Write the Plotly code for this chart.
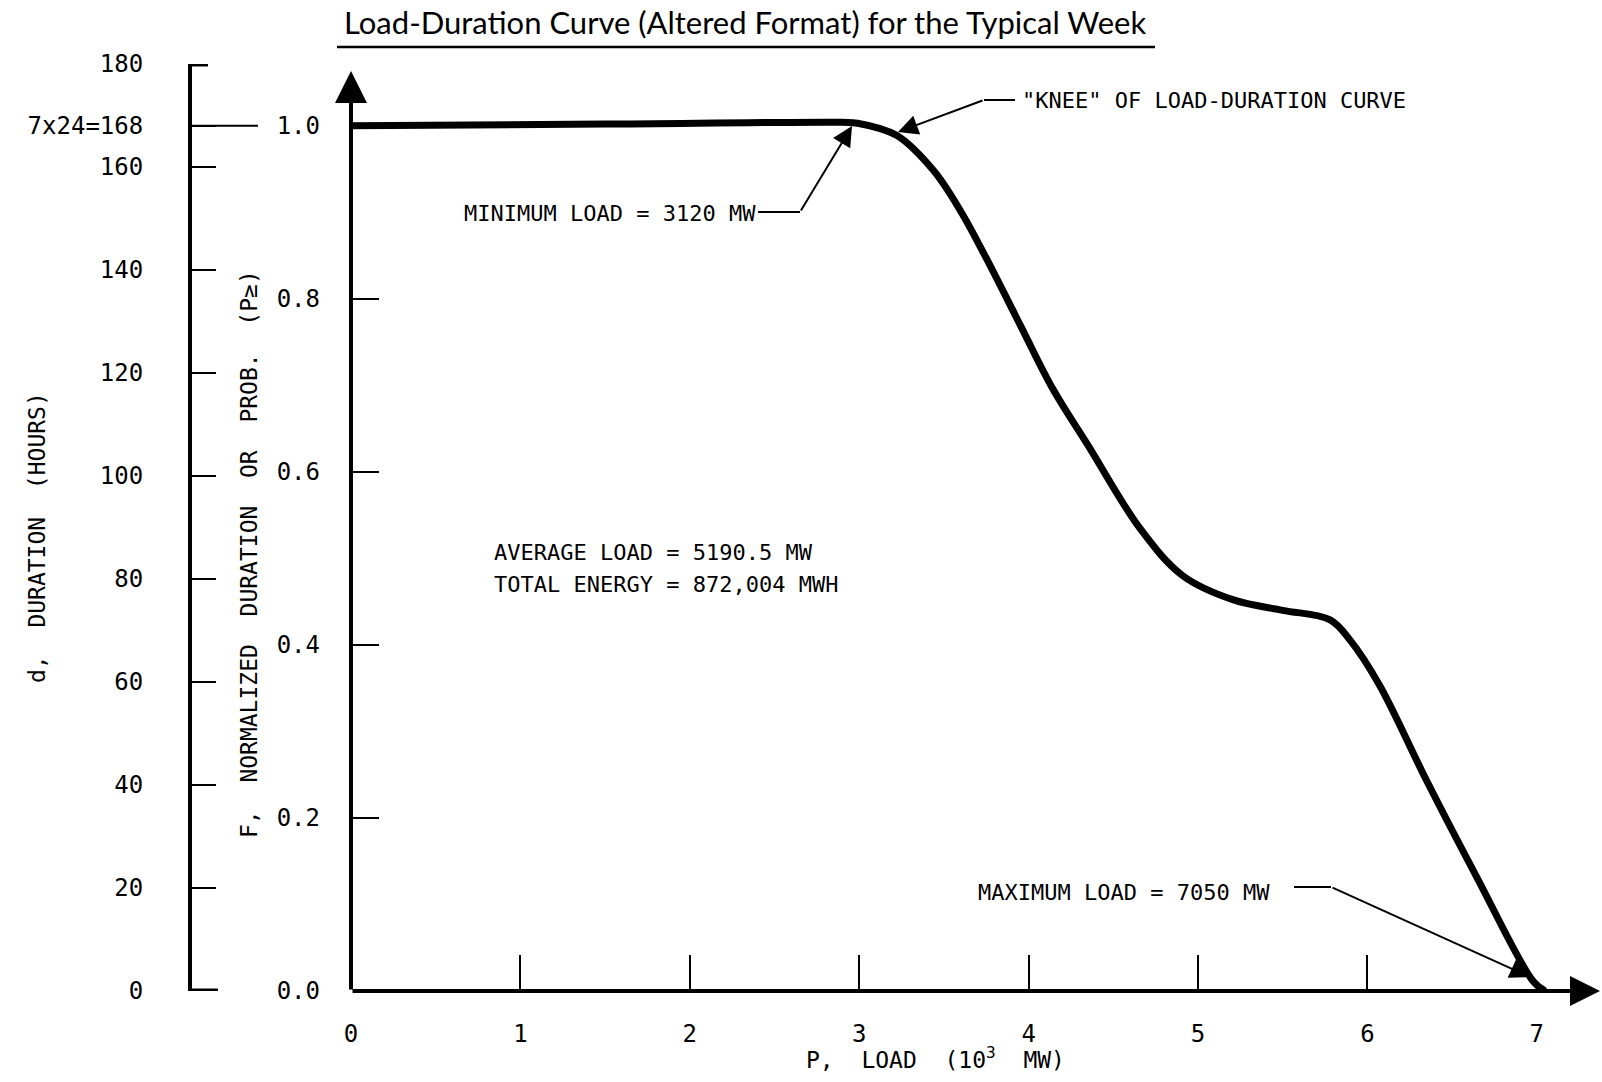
import plotly.graph_objects as go

# ---------------- data ----------------
load_P = [0.0, 1.5, 2.90, 2.99, 3.22, 3.44, 3.60, 3.75, 3.95, 4.14, 4.35, 4.66,
          4.91, 5.21, 5.50, 5.78, 5.90, 6.07, 6.35, 6.65, 6.98, 7.05]
norm_F = [1.000, 1.002, 1.004, 1.003, 0.989, 0.948, 0.901, 0.847, 0.770, 0.697, 0.631, 0.534,
          0.480, 0.452, 0.440, 0.429, 0.405, 0.354, 0.243, 0.130, 0.011, 0.000]

x_label_vals = [0, 1, 2, 3, 4, 5, 6, 7]
x_label_text = ["0", "1", "2", "3", "4", "5", "6", "7"]
x_tick_marks = [1, 2, 3, 4, 5, 6]
f_tick_vals = [0.0, 0.2, 0.4, 0.6, 0.8, 1.0]
f_tick_text = ["0.0", "0.2", "0.4", "0.6", "0.8", "1.0"]
d_tick_vals = [0, 20, 40, 60, 80, 100, 120, 140, 160, 168, 180]
d_tick_text = ["0", "20", "40", "60", "80", "100", "120", "140", "160", "7x24=168", "180"]
HOURS_WEEK = 168
D_TOP = 180

MIN_LOAD = 3.12
MAX_LOAD = 7.05

# ---------------- layout geometry ----------------
W, H = 1602, 1082
MT, MB = 64, 91
X0_PX = 351.0          # pixel of P = 0
PX_PER_P = 169.4
X_MAX = (W - X0_PX) / PX_PER_P
F_TOP = D_TOP / HOURS_WEEK
PLOT_H = H - MT - MB
PX_PER_F = PLOT_H / F_TOP


def px2x(px):
    return (px - X0_PX) / PX_PER_P


def py2f(py):
    return (H - MB - py) / PX_PER_F


def ppx(px):
    return px / W


def ppy(py):
    return (H - MB - py) / PLOT_H


MONO = "DejaVu Sans Mono"
BLACK = "black"

fig = go.Figure()
fig.add_trace(go.Scatter(
    x=load_P, y=norm_F, mode="lines",
    line=dict(color=BLACK, width=7, shape="spline", smoothing=1.0),
    hoverinfo="skip", showlegend=False))
# invisible helper trace so the label axes render
fig.add_trace(go.Scatter(x=[0], y=[0], xaxis="x2", yaxis="y2", mode="markers",
                         marker=dict(opacity=0), hoverinfo="skip", showlegend=False))

annotations = []
shapes = []


def arrow(tip, tail, width=2, size=2.0, head=2):
    annotations.append(dict(
        x=tip[0], y=tip[1], ax=tail[0], ay=tail[1],
        xref="x", yref="y", axref="x", ayref="y",
        text="", showarrow=True, arrowhead=head, arrowsize=size,
        arrowwidth=width, arrowcolor=BLACK, standoff=0, startstandoff=0))


def seg(p0, p1, width=2):
    shapes.append(dict(type="line", xref="x", yref="y",
                       x0=p0[0], y0=p0[1], x1=p1[0], y1=p1[1],
                       line=dict(color=BLACK, width=width)))


# main axes as arrows
arrow((0, py2f(71)), (0, 0), width=4, size=1.6)
arrow((px2x(1600), 0), (0, 0), width=4, size=1.5)

# minimum load callout
seg((px2x(758), py2f(212)), (px2x(800), py2f(212)))
arrow((px2x(852), py2f(126)), (px2x(800), py2f(212)))
annotations.append(dict(x=px2x(462), y=py2f(213), xref="x", yref="y", xanchor="left",
                        yanchor="middle", showarrow=False,
                        text="MINIMUM LOAD = %d MW" % round(MIN_LOAD * 1000),
                        font=dict(family=MONO, size=22, color=BLACK)))
# knee callout
seg((px2x(984), py2f(100)), (px2x(1015), py2f(100)))
arrow((px2x(898), py2f(132)), (px2x(984), py2f(100)))
annotations.append(dict(x=px2x(1020), y=py2f(100), xref="x", yref="y", xanchor="left",
                        yanchor="middle", showarrow=False,
                        text="\"KNEE\" OF LOAD-DURATION CURVE",
                        font=dict(family=MONO, size=22, color=BLACK)))
# maximum load callout
seg((px2x(1294), py2f(887)), (px2x(1331), py2f(887)))
arrow((px2x(1530), py2f(977)), (px2x(1331), py2f(887)))
annotations.append(dict(x=px2x(976), y=py2f(892), xref="x", yref="y", xanchor="left",
                        yanchor="middle", showarrow=False,
                        text="MAXIMUM LOAD = %d MW" % round(MAX_LOAD * 1000),
                        font=dict(family=MONO, size=22, color=BLACK)))
# average / energy
annotations.append(dict(x=px2x(492), y=py2f(552), xref="x", yref="y", xanchor="left",
                        yanchor="middle", showarrow=False,
                        text="AVERAGE LOAD = 5190.5 MW",
                        font=dict(family=MONO, size=22, color=BLACK)))
annotations.append(dict(x=px2x(492), y=py2f(584), xref="x", yref="y", xanchor="left",
                        yanchor="middle", showarrow=False,
                        text="TOTAL ENERGY = 872,004 MWH",
                        font=dict(family=MONO, size=22, color=BLACK)))

# axis titles
annotations.append(dict(x=ppx(37), y=ppy(538), xref="paper", yref="paper",
                        textangle=-90, showarrow=False, xanchor="center", yanchor="middle",
                        text="d,  DURATION  (HOURS)",
                        font=dict(family=MONO, size=23, color=BLACK)))
annotations.append(dict(x=ppx(249), y=ppy(554), xref="paper", yref="paper",
                        textangle=-90, showarrow=False, xanchor="center", yanchor="middle",
                        text="F,  NORMALIZED  DURATION  OR  PROB.  (P≥)",
                        font=dict(family=MONO, size=23, color=BLACK)))
annotations.append(dict(x=ppx(935), y=ppy(1058), xref="paper", yref="paper",
                        showarrow=False, xanchor="center", yanchor="middle",
                        text="P,  LOAD  (10<sup>3</sup>  MW)",
                        font=dict(family=MONO, size=23, color=BLACK)))
# title
annotations.append(dict(x=ppx(745), y=ppy(22), xref="paper", yref="paper",
                        showarrow=False, xanchor="center", yanchor="middle",
                        text="Load-Duration Curve (Altered Format) for the Typical Week",
                        font=dict(family="Lato", size=31, color=BLACK)))
shapes.append(dict(type="line", xref="paper", yref="paper",
                   x0=ppx(337), x1=ppx(1155), y0=ppy(47), y1=ppy(47),
                   line=dict(color=BLACK, width=2.5)))

# duration axis: long 168 line and end caps
shapes.append(dict(type="line", xref="paper", yref="y2",
                   x0=ppx(190), x1=ppx(258), y0=HOURS_WEEK, y1=HOURS_WEEK,
                   line=dict(color=BLACK, width=2)))
shapes.append(dict(type="line", xref="paper", yref="y2",
                   x0=ppx(188), x1=ppx(208), y0=D_TOP, y1=D_TOP,
                   line=dict(color=BLACK, width=5)))
shapes.append(dict(type="line", xref="paper", yref="y2",
                   x0=ppx(188), x1=ppx(218), y0=0, y1=0,
                   line=dict(color=BLACK, width=5)))

x_dom = [ppx(X0_PX), 1.0]

fig.update_layout(
    width=W, height=H,
    margin=dict(l=0, r=0, t=MT, b=MB, pad=0),
    paper_bgcolor="white", plot_bgcolor="white",
    showlegend=False,
    xaxis=dict(domain=x_dom, range=[0, X_MAX], showgrid=False, zeroline=False,
               showline=False, tickmode="array", tickvals=x_tick_marks,
               showticklabels=False, ticks="inside", ticklen=36, tickwidth=2,
               tickcolor=BLACK, automargin=False, fixedrange=True),
    xaxis2=dict(domain=x_dom, range=[0, X_MAX], overlaying="x", anchor="y", side="bottom",
                showgrid=False, zeroline=False, showline=False, tickmode="array",
                tickvals=x_label_vals, ticktext=x_label_text, ticks="",
                ticklabelstandoff=26,
                tickfont=dict(family=MONO, size=24, color=BLACK),
                automargin=False, fixedrange=True),
    yaxis=dict(domain=[0, 1], range=[0, F_TOP], showgrid=False, zeroline=False,
               showline=False, tickmode="array", tickvals=f_tick_vals, ticktext=f_tick_text,
               ticks="inside", ticklen=28, tickwidth=2, tickcolor=BLACK,
               ticklabelstandoff=30,
               tickfont=dict(family=MONO, size=24, color=BLACK),
               automargin=False, fixedrange=True),
    yaxis2=dict(domain=[0, 1], range=[0, D_TOP], overlaying="y", anchor="free",
                position=ppx(190), side="left",
                showgrid=False, zeroline=False, showline=True, linewidth=4, linecolor=BLACK,
                tickmode="array", tickvals=d_tick_vals, ticktext=d_tick_text,
                ticks="inside", ticklen=24, tickwidth=2, tickcolor=BLACK,
                ticklabelstandoff=40,
                tickfont=dict(family=MONO, size=24, color=BLACK),
                automargin=False, fixedrange=True),
    annotations=annotations,
    shapes=shapes,
)

fig.write_html("out.html")
